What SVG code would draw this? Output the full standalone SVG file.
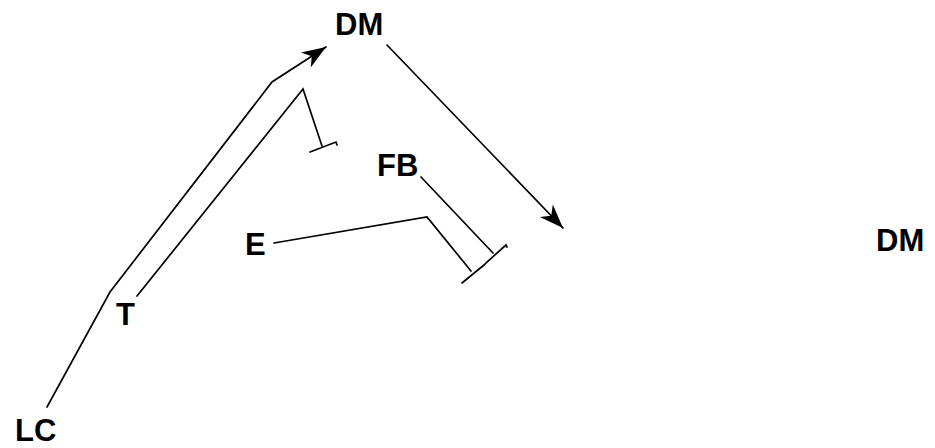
<svg xmlns="http://www.w3.org/2000/svg" width="935" height="448" viewBox="0 0 935 448">
  <style>
    .lbl { font-family: "Liberation Sans", Arial, sans-serif; font-weight: bold; font-size: 31px; fill: #000; }
    .ln { fill: none; stroke: #000; stroke-width: 1.7; stroke-linecap: round; stroke-linejoin: miter; }
  </style>
  <defs>
    <marker id="arrow" markerUnits="userSpaceOnUse" markerWidth="30" markerHeight="24" refX="24" refY="9" orient="auto" overflow="visible">
      <path d="M24,9 L0,0 L7,9 L0,18 Z" fill="#000"/>
    </marker>
  </defs>
  <rect width="935" height="448" fill="#fff"/>

  <g id="node-DM-top"><text class="lbl" x="335" y="35">DM</text></g>
  <g id="node-DM-right"><text class="lbl" x="876" y="251">DM</text></g>
  <g id="node-FB"><text class="lbl" x="377" y="176">FB</text></g>
  <g id="node-E"><text class="lbl" x="245" y="255">E</text></g>
  <g id="node-T"><text class="lbl" x="116" y="325">T</text></g>
  <g id="node-LC"><text class="lbl" x="15" y="441">LC</text></g>

  <g id="connectors">
    <!-- LC through T to DM (activation) -->
    <path class="ln" d="M47,407 L110,292 L272,82 L326,47" marker-end="url(#arrow)"/>
    <!-- T inhibition -->
    <path class="ln" d="M137,296 L303,89 L322,146"/>
    <path class="ln" d="M310,152 L336,142 L337,145"/>
    <!-- DM activation -->
    <path class="ln" d="M387,45 L563,228" marker-end="url(#arrow)"/>
    <!-- FB inhibition -->
    <path class="ln" d="M421,177 L493,253"/>
    <!-- E inhibition -->
    <path class="ln" d="M274,243 L427,217 L471,271"/>
    <!-- shared inhibition bar -->
    <path class="ln" d="M462,283 L484,265 L487,262 L506,245 L507,247"/>
  </g>
</svg>
